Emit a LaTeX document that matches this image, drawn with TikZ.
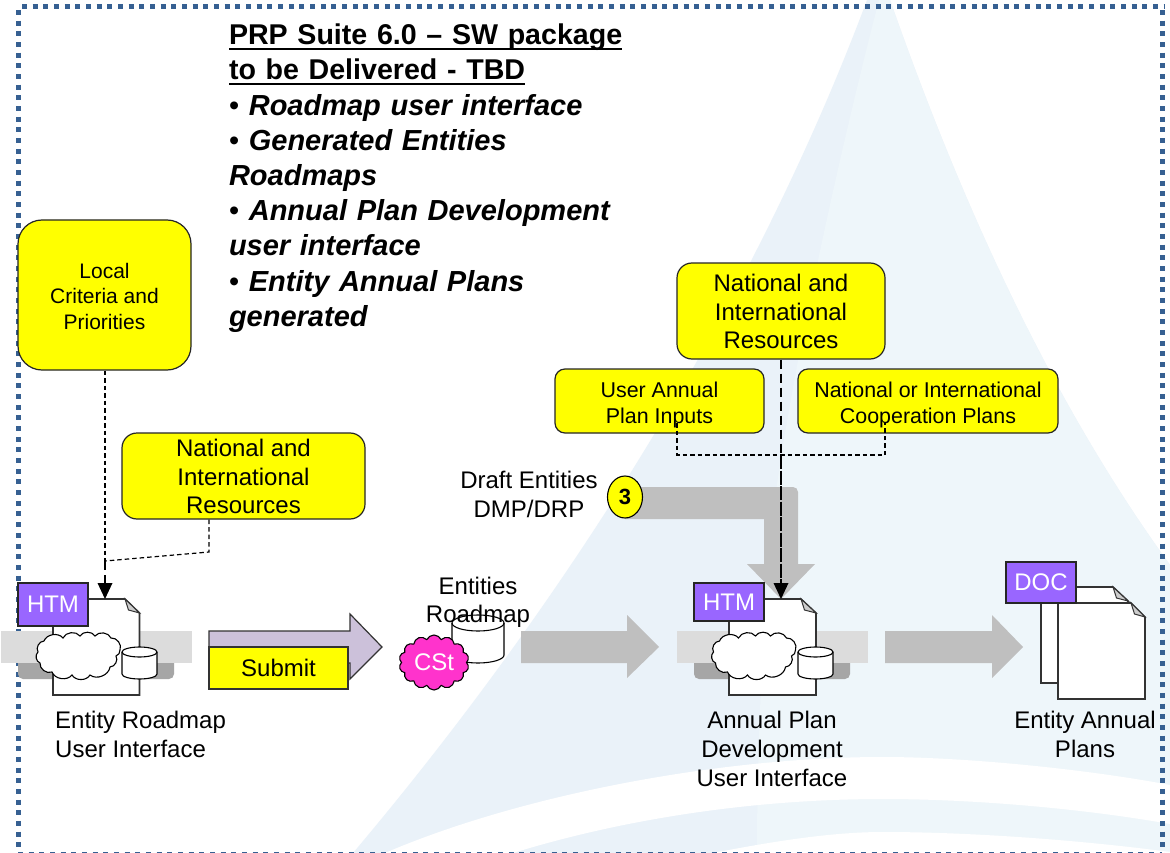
\documentclass[tikz,border=0pt]{standalone}
\usepackage{fontspec}
\newcommand{\Uline}[1]{\leavevmode\setbox0\hbox{\fontsize{28.6}{35.2}\selectfont #1}\rlap{\raisebox{-5.5pt}{\rule{\wd0}{2.4pt}}}\box0}
\setmainfont{Liberation Sans}
\usetikzlibrary{shapes.symbols,shapes.geometric,arrows.meta}
\definecolor{edge}{HTML}{333333}
\definecolor{frameblue}{HTML}{366092}
\definecolor{sailA}{HTML}{EAF2F9}
\definecolor{sailB}{HTML}{EEF6FA}
\definecolor{purplebox}{HTML}{9966FF}
\definecolor{lilac}{HTML}{CCC1DA}
\definecolor{magentaC}{HTML}{FF33CC}
\definecolor{flow}{HTML}{BFBFBF}
\definecolor{pureyellow}{HTML}{FFFF00}
\definecolor{bandlight}{HTML}{DCDCDC}
\definecolor{banddark}{HTML}{A6A6A6}
\definecolor{foldgrey}{HTML}{CCCCCC}
\tikzset{
  x=1pt,y=-1pt,
  txt/.style={font=\fontsize{#1}{#1}\selectfont,inner sep=0,outer sep=0},
  note/.style={rectangle,rounded corners=#1,draw=black!85,line width=1.2pt,fill=pureyellow,inner sep=0,align=center},
  tagbox/.style={rectangle,draw=black!85,line width=1.2pt,fill=purplebox,text=white,inner sep=0,font=\fontsize{24}{24}\selectfont},
  flowfill/.style={fill=flow,draw=none},
  dashthin/.style={draw=black,line width=1.2pt,dash pattern=on 4.5pt off 3pt},
  dashthick/.style={draw=black,line width=2.5pt,dash pattern=on 9pt off 5pt},
  dashdense/.style={draw=black,line width=2.5pt,dash pattern=on 14pt off 1.5pt},
  headtip/.style={fill=black,draw=none},
  puffy/.style={fill=white,draw=black,line width=1.1pt},
}
\newcommand{\Tp}[1]{\rule{0pt}{#1}}
\newcommand{\DocPage}[6]{% name, left, top, right, bottom, foldx
  \path[fill=white,draw=edge,line width=1.6pt] (#2,#3) -- (#6,#3) -- (#4,#3+14) -- (#4,#5) -- (#2,#5) -- cycle;
  \path[fill=foldgrey,draw=edge,line width=1pt] (#6,#3) -- (#4,#3+14) -- (#6+3.5,#3+11) -- cycle;
  \coordinate (#1) at (#2/2+#4/2,#3);
}
\newcommand{\Cyl}[6]{% left top(center of top ellipse) right bottom rx ry
  \path[fill=white,draw=black,line width=1.1pt] (#1,#2) -- (#1,#4) arc[start angle=180,end angle=360,x radius=#5,y radius=-#6] -- (#3,#2) arc[start angle=0,end angle=180,x radius=#5,y radius=-#6] -- cycle;
  \path[draw=black,line width=1.1pt] (#1,#2) arc[start angle=180,end angle=360,x radius=#5,y radius=-#6];
}
\newcommand{\Wolke}[1]{%
  \begin{scope}[xshift=#1pt]
  \path[puffy] (44,641) to[bend left=60] (63,638) to[bend left=60] (80,636) to[bend left=60] (95,636) to[bend left=60] (111,638) to[bend left=60] (120,650) to[bend left=35] (116,656) to[bend left=60] (110,667) to[bend left=60] (90,675) to[bend left=60] (72,675) to[bend left=60] (52,672) to[bend left=60] (40,663) to[bend left=60] (38,652) to[bend left=60] cycle;
  \end{scope}
}
\begin{document}
\begin{tikzpicture}
\useasboundingbox (0,0) rectangle (1170,853);
\clip (0,0) rectangle (1170,853);
\fill[white] (0,0) rectangle (1170,853);
% background sail
\fill[sailA] (867,0) .. controls (770,260) and (600,560) .. (353,853) -- (1170,853) -- (1170,565) .. controls (1050,400) and (960,200) .. (890,0) -- cycle;
\fill[sailB] (879,0) .. controls (835,170) and (790,380) .. (772,520) .. controls (762,640) and (757,750) .. (757,853) -- (1170,853) -- (1170,565) .. controls (1050,400) and (960,200) .. (890,0) -- cycle;
% swooshes
\fill[white] (385,853) .. controls (520,795) and (720,757) .. (883,757) .. controls (960,757) and (1080,768) .. (1170,785) -- (1170,824) .. controls (1080,808) and (970,799) .. (883,799) .. controls (750,799) and (620,820) .. (513,853) -- cycle;
\fill[white] (713,853) .. controls (770,842) and (830,832) .. (883,832) .. controls (970,832) and (1080,840) .. (1170,852) -- (1170,853) -- cycle;
% frame
\draw[frameblue,line width=5pt,dash pattern=on 5pt off 5.67pt] (22,7) -- (1165,7);
\draw[frameblue,line width=5pt,dash pattern=on 5pt off 5.67pt] (18,10) -- (18,853);
\draw[frameblue,line width=5pt,dash pattern=on 5pt off 5.67pt] (1162,10) -- (1162,853);
\draw[frameblue,line width=5pt,dash pattern=on 5pt off 5.67pt] (18,854) -- (1162,854);
% title
\node[inner sep=0,outer sep=0,font=\fontsize{29}{35.2}\selectfont\bfseries,anchor=north west,align=left,text width=420pt] (title) at (229,24) {\Uline{PRP Suite 6.0 – SW package}\\ \Uline{to be Delivered - TBD}\\ {\mdseries •} \textit{Roadmap user interface}\\ {\mdseries •} \textit{Generated Entities}\\ \textit{Roadmaps}\\ {\mdseries •} \textit{Annual Plan Development}\\ \textit{user interface}\\ {\mdseries •} \textit{Entity Annual Plans}\\ \textit{generated}};
% left notes
\node[note=24pt,minimum width=173pt,minimum height=150pt,font=\fontsize{21}{25.5}\selectfont] (local) at (104.5,295) {\Tp{18pt}Local\\Criteria and\\Priorities};
\node[note=15pt,minimum width=243pt,minimum height=86pt,font=\fontsize{24}{28.5}\selectfont] (natL) at (243.5,476) {\Tp{19pt}National and\\International\\Resources};
% left block
\fill[banddark,rounded corners=5pt] (18,650) rectangle (174,679);
\fill[bandlight] (1,631) rectangle (192,663);
\DocPage{docA}{53}{599}{139.5}{695}{125}
\node[tagbox,minimum width=70pt,minimum height=43pt] (htmA) at (53,604.5) {HTM};
\Wolke{0}
\Cyl{122}{652}{157}{674}{17.5}{5}
\coordinate (cylA) at (139.5,652);
% dashed connectors left
\coordinate (elbowA) at (105,561);
\coordinate (elbowB) at (209,552);
\draw[dashthin] (natL.south -| elbowB) -- (elbowB) -- (elbowA);
\coordinate (tipA) at (105,599);
\draw[dashthin] (local.south -| tipA) -- (tipA |- elbowA);
\draw[dashthick] (elbowA) -- (105,585);
\fill[headtip] (97.5,583) -- (112.5,583) -- (tipA) -- cycle;
% submit
\path[fill=lilac,draw=edge,line width=1.2pt] (209,631) -- (350,631) -- (350,614) -- (382,647) -- (350,679) -- (350,663) -- (209,663) -- cycle;
\node[rectangle,draw=edge,line width=1.2pt,fill=pureyellow,minimum width=139pt,minimum height=42pt,inner sep=0,font=\fontsize{24}{24}\selectfont] (submit) at (278.5,668) {Submit};
% entities roadmap
\Cyl{452}{623}{504}{655}{26}{8}
\node[cloud,cloud puffs=14,cloud puff arc=130,aspect=1.25,draw=black,line width=1.1pt,fill=magentaC,minimum width=70pt,minimum height=55pt,inner sep=0,text=white,font=\fontsize{24}{24}\selectfont] (cst) at (434,662.5) {CSt};
\node[txt=24] (ent1) at (478,586) {Entities};
\node[txt=24] (ent2) at (478,616) {Roadmap};
% arrows
\path[flowfill] (521,631) -- (627,631) -- (627,615) -- (659,647) -- (627,678) -- (627,663) -- (521,663) -- cycle;
\path[flowfill] (885,631) -- (992,631) -- (992,615) -- (1023,647) -- (992,678) -- (992,663) -- (885,663) -- cycle;
% bent arrow
\path[flowfill] (625,487) -- (793,487) arc[start angle=-90,end angle=0,radius=5] -- (798,564) -- (815,564) -- (781,599) -- (747,564) -- (764,564) -- (764,519) -- (625,519) -- cycle;
% right block
\fill[banddark,rounded corners=5pt] (694,650) rectangle (850,679);
\fill[bandlight] (677,631) rectangle (868,663);
\DocPage{docB}{729}{599}{816}{695}{801}
\node[tagbox,minimum width=70pt,minimum height=38pt] (htmB) at (729,602) {HTM};
\Wolke{675.5}
\Cyl{798}{652}{833}{674}{17.5}{5}
% docs
\DocPage{docC}{1041}{587}{1128}{683}{1113}
\DocPage{docD}{1058}{603}{1145}{699}{1131}
\node[tagbox,minimum width=70pt,minimum height=41pt] (doc) at (1041,582.5) {DOC};
% right notes
\node[note=15pt,minimum width=208pt,minimum height=96pt,font=\fontsize{24}{28.5}\selectfont] (natR) at (781,311) {\Tp{19pt}National and\\International\\Resources};
\node[note=10pt,minimum width=209pt,minimum height=64pt,font=\fontsize{21.4}{26}\selectfont] (user) at (659.5,401) {\Tp{24pt}User Annual\\Plan Inputs};
\node[note=10pt,minimum width=260pt,minimum height=64pt,font=\fontsize{21.4}{26}\selectfont] (coop) at (928,401) {\Tp{24pt}National or International\\Cooperation Plans};
% bracket
\coordinate (brL) at (677,423);
\coordinate (brR) at (885,423);
\coordinate (brM) at (781,455);
\draw[dashthin] (brL) -- (brL |- brM) -- (brR |- brM) -- (brR);
% main dashed
\coordinate (tipB) at (781,599);
\draw[dashthick] (natR.south) -- (brM);
\draw[dashdense] (brM) -- (781,585);
\fill[headtip] (773.5,583) -- (788.5,583) -- (tipB) -- cycle;
% 3
\node[ellipse,draw=black,line width=1.1pt,fill=pureyellow,minimum width=35pt,minimum height=42pt,inner sep=0,font=\fontsize{22}{22}\selectfont\bfseries] (three) at (625,497) {3};
\node[inner sep=0,align=center,font=\fontsize{24}{29}\selectfont] (draft) at (529,494) {Draft Entities\\DMP/DRP};
% captions
\node[inner sep=0,anchor=north west,align=left,font=\fontsize{24}{29}\selectfont] (capA) at (55,711) {Entity Roadmap\\User Interface};
\node[inner sep=0,anchor=north,align=center,font=\fontsize{24}{29}\selectfont] (capB) at (772,711) {Annual Plan\\Development\\User Interface};
\node[inner sep=0,anchor=north,align=center,font=\fontsize{24}{29}\selectfont] (capC) at (1085,711) {Entity Annual\\Plans};
\end{tikzpicture}
\end{document}
